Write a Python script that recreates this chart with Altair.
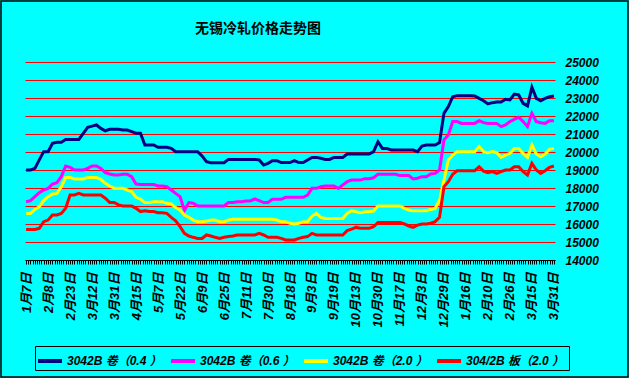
import json
import altair as alt
import pandas as pd

chart_title = "无锡冷轧价格走势图"

labels = ["1月7日", "2月8日", "2月23日", "3月12日", "3月31日", "4月15日", "5月7日",
          "5月22日", "6月9日", "6月25日", "7月11日", "7月30日", "8月18日", "9月3日",
          "9月19日", "10月13日", "10月30日", "11月17日", "12月3日", "12月29日",
          "1月16日", "2月10日", "2月26日", "3月15日", "3月31日"]

series_names = ["3042B 卷（0.4 ）", "3042B 卷（0.6 ）", "3042B 卷（2.0 ）", "304/2B  板（2.0 ）"]
colors = ["#000080", "#FF00FF", "#FFFF00", "#FF0000"]

# category index of each sampled point (every second trading day)
idx = list(range(0, 241, 2))

navy = [
    19000, 19000, 19090, 19560, 20020, 20020, 20480, 20540, 20540, 20700,
    20700, 20700, 20700, 21040, 21370, 21440, 21500, 21310, 21180, 21260,
    21260, 21260, 21220, 21220, 21130, 21040, 21040, 20390, 20390, 20390,
    20260, 20260, 20260, 20200, 20020, 20020, 20020, 20020, 20020, 20020,
    19780, 19460, 19400, 19400, 19400, 19400, 19590, 19590, 19590, 19590,
    19590, 19590, 19590, 19560, 19280, 19370, 19520, 19520, 19410, 19410,
    19410, 19520, 19410, 19410, 19560, 19700, 19700, 19650, 19590, 19590,
    19700, 19700, 19700, 19890, 19890, 19890, 19890, 19890, 19890, 20020,
    20570, 20200, 20200, 20110, 20110, 20110, 20110, 20110, 20110, 20020,
    20330, 20390, 20390, 20390, 20520, 22150, 22520, 23070, 23130, 23130,
    23130, 23130, 23110, 22980, 22850, 22670, 22740, 22780, 22780, 22930,
    22890, 23220, 23170, 22700, 22560, 23600, 22980, 22850, 22980, 23070,
    23110]

magenta = [
    17240, 17300, 17520, 17740, 17890, 17980, 18220, 18300, 18630, 19220,
    19150, 19000, 19000, 19000, 19090, 19220, 19220, 19090, 18850, 18780,
    18720, 18720, 18760, 18760, 18630, 18220, 18200, 18200, 18200, 18200,
    18110, 18110, 18070, 17890, 17700, 17520, 16750, 17190, 17150, 17000,
    17000, 17000, 17000, 17000, 17000, 17000, 17190, 17190, 17240, 17240,
    17280, 17280, 17390, 17300, 17190, 17190, 17370, 17370, 17370, 17480,
    17480, 17480, 17480, 17480, 17610, 17980, 17980, 18070, 18110, 18110,
    18110, 17980, 18170, 18350, 18440, 18440, 18440, 18520, 18520, 18570,
    18760, 18760, 18760, 18760, 18760, 18690, 18690, 18690, 18500, 18540,
    18630, 18630, 18780, 18810, 19000, 20670, 20940, 21690, 21690, 21590,
    21590, 21590, 21590, 21740, 21630, 21590, 21590, 21590, 21410, 21500,
    21690, 21810, 21930, 21690, 21410, 22150, 21690, 21630, 21590, 21740,
    21740]

yellow = [
    16590, 16590, 16810, 16960, 17300, 17520, 17670, 17700, 18070, 18590,
    18590, 18500, 18500, 18500, 18590, 18590, 18590, 18480, 18260, 18110,
    17980, 17980, 17980, 17890, 17800, 17480, 17390, 17190, 17190, 17240,
    17240, 17240, 17150, 17110, 16910, 16780, 16500, 16370, 16220, 16130,
    16130, 16170, 16220, 16220, 16130, 16130, 16220, 16260, 16260, 16260,
    16260, 16260, 16260, 16260, 16260, 16260, 16260, 16220, 16130, 16130,
    16040, 16000, 16040, 16130, 16130, 16440, 16590, 16370, 16310, 16310,
    16310, 16310, 16310, 16590, 16740, 16680, 16630, 16680, 16680, 16720,
    17000, 17000, 17000, 17000, 17000, 17000, 16870, 16780, 16740, 16740,
    16740, 16740, 16810, 16870, 17330, 18440, 19560, 19830, 20020, 20020,
    20020, 20020, 20020, 20300, 20020, 19960, 20020, 19960, 19700, 19830,
    19920, 20200, 20200, 19920, 19700, 20390, 19890, 19740, 19890, 20150,
    20200]

red = [
    15700, 15700, 15700, 15760, 16130, 16220, 16500, 16500, 16590, 16870,
    17610, 17610, 17700, 17610, 17610, 17610, 17610, 17610, 17430, 17200,
    17200, 17060, 17000, 17000, 17000, 16870, 16690, 16740, 16690, 16690,
    16630, 16630, 16590, 16370, 16180, 15850, 15480, 15330, 15260, 15200,
    15200, 15390, 15330, 15260, 15200, 15260, 15300, 15330, 15390, 15390,
    15390, 15390, 15390, 15480, 15390, 15260, 15260, 15260, 15200, 15110,
    15110, 15110, 15200, 15260, 15300, 15480, 15390, 15390, 15390, 15390,
    15390, 15390, 15390, 15630, 15720, 15810, 15760, 15760, 15760, 15850,
    16090, 16090, 16090, 16090, 16090, 16090, 16000, 15890, 15810, 15940,
    16000, 16000, 16040, 16130, 16370, 18070, 18350, 18760, 18960, 18960,
    18960, 18960, 18960, 19180, 18940, 18850, 18910, 18810, 18910, 19000,
    19000, 19180, 19180, 18910, 18720, 19370, 19000, 18810, 18960, 19150,
    19220]

rows = []
for name, vals in zip(series_names, [navy, magenta, yellow, red]):
    for k, v in zip(idx, vals):
        rows.append({"s": name, "i": k, "v": v})
df = pd.DataFrame(rows)

FONT = "Liberation Sans, Noto Sans CJK SC, sans-serif"
label_expr = ("datum.value % 10 == 0 ? " + json.dumps(labels, ensure_ascii=False)
              + "[datum.value / 10] : ''")

lines = alt.Chart(df).mark_line(strokeWidth=3).encode(
    x=alt.X("i:Q",
            scale=alt.Scale(domain=[-0.5, 240.5], nice=False, zero=False),
            axis=alt.Axis(values=list(range(241)), labelExpr=label_expr,
                          labelAngle=270, labelAlign="right", labelBaseline="middle",
                          labelPadding=8, tickSize=4, tickColor="black", tickWidth=1,
                          domainColor="black", domainWidth=1, grid=False,
                          labelOverlap=False, labelFlush=False, labelBound=False,
                          title=None, labelFont=FONT, labelFontSize=13,
                          labelFontWeight="bold", labelFontStyle="italic",
                          labelColor="black", zindex=1)),
    y=alt.Y("v:Q",
            scale=alt.Scale(domain=[14000, 25000], nice=False, zero=False),
            axis=alt.Axis(orient="right", values=list(range(14000, 25001, 1000)),
                          format="d", grid=True, gridColor="#FF0000", gridWidth=1,
                          gridOpacity=1, domain=False, ticks=False, labelPadding=10,
                          title=None, labelFont=FONT, labelFontSize=12,
                          labelFontWeight="bold", labelFontStyle="italic",
                          labelColor="black")),
    color=alt.Color("s:N",
                    scale=alt.Scale(domain=series_names, range=colors),
                    sort=series_names,
                    legend=alt.Legend(orient="none", legendX=10, legendY=284,
                                      direction="horizontal", title=None,
                                      symbolType="stroke", symbolStrokeWidth=4,
                                      symbolSize=576, strokeColor="black",
                                      padding=1, columnPadding=1, labelOffset=3,
                                      labelFont=FONT, labelFontSize=12,
                                      labelFontWeight="bold", labelFontStyle="italic",
                                      labelColor="black", labelLimit=300)),
    detail="s:N",
    order="i:Q",
)

one = pd.DataFrame({"a": [0]})

frame = alt.Chart(one).mark_rect(
    fillOpacity=0, stroke="black", strokeWidth=1.5
).encode(x=alt.value(-24), x2=alt.value(603), y=alt.value(-61), y2=alt.value(315))

title_mark = alt.Chart(one).mark_text(
    align="left", baseline="alphabetic", font="Noto Sans CJK SC",
    fontSize=14, fontWeight="bold", color="black"
).encode(x=alt.value(170), y=alt.value(-29), text=alt.value(chart_title))

chart = alt.layer(lines, frame, title_mark).properties(
    width=530, height=198,
    padding={"left": 25, "top": 62, "right": 74, "bottom": 118},
    autosize=alt.AutoSizeParams(type="none"),
    background="#00FFFF",
).configure_view(strokeWidth=0)

chart.save("out.html", embed_options={"renderer": "svg", "actions": False})
